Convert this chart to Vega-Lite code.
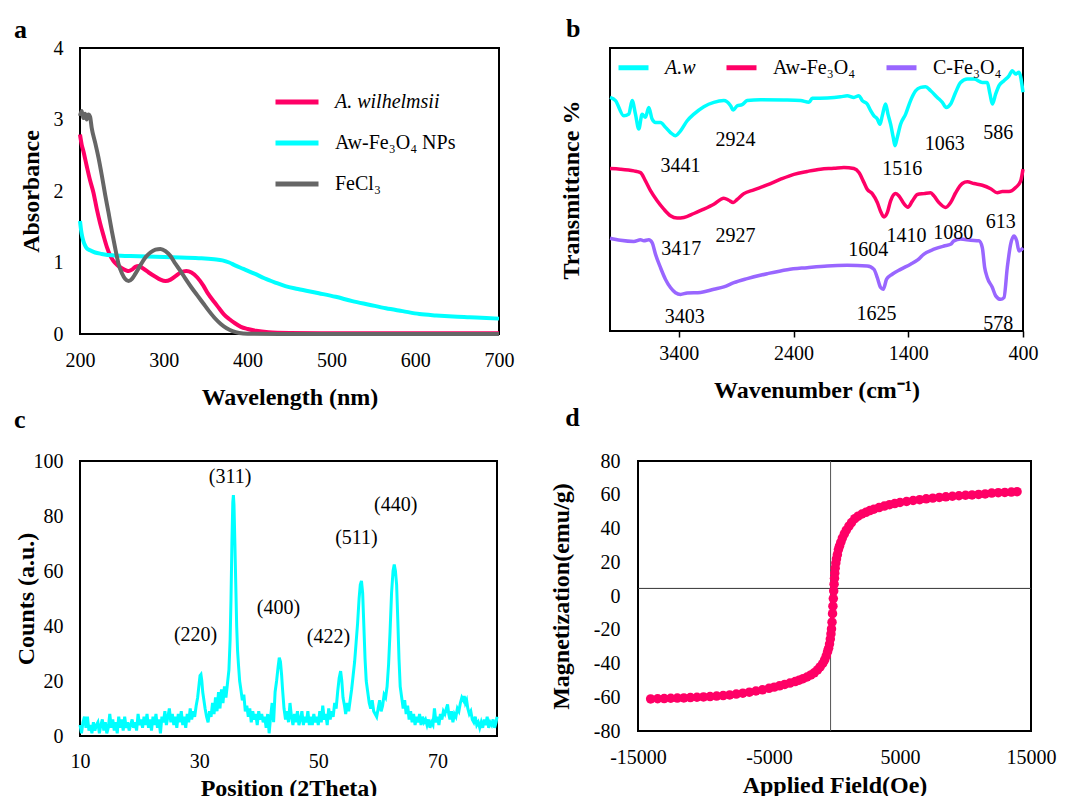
{
  "$schema": "https://vega.github.io/schema/vega-lite/v6.json",
  "padding": {"left": 13, "top": 15, "right": 0, "bottom": 0},
  "config": {
    "font": "Liberation Serif",
    "view": {"stroke": "#000", "strokeWidth": 2},
    "axis": {"labelFont": "Liberation Serif", "labelFontSize": 20, "labelColor": "#000", "titleFont": "Liberation Serif", "titleFontSize": 24, "titleFontWeight": "bold", "titleColor": "#000", "grid": false, "domain": false, "ticks": false, "labelFlush": false, "labelOverlap": false},
    "title": {"font": "Liberation Serif", "fontSize": 26, "fontWeight": "bold", "color": "#000", "anchor": "start", "frame": "bounds", "baseline": "alphabetic"},
    "legend": {"labelFont": "Liberation Serif", "labelFontSize": 20, "labelColor": "#000", "labelLimit": 300},
    "text": {"font": "Liberation Serif", "fontSize": 20, "fill": "#000"}
  },
  "spacing": -6,
  "resolve": {"scale": {"color": "independent"}, "legend": {"color": "independent"}},
  "vconcat": [
    {
      "spacing": 43,
      "resolve": {"scale": {"color": "independent"}, "legend": {"color": "independent"}},
      "hconcat": [
        {
          "width": 419, "height": 286,
          "title": {"text": "a", "dx": -5, "offset": -5},
          "data": {"values": [
            {"s":"A. wilhelmsii","wl":200,"v":2.79},{"s":"A. wilhelmsii","wl":202,"v":2.65},{"s":"A. wilhelmsii","wl":204,"v":2.56},{"s":"A. wilhelmsii","wl":208,"v":2.35},{"s":"A. wilhelmsii","wl":212,"v":2.15},{"s":"A. wilhelmsii","wl":216,"v":1.98},{"s":"A. wilhelmsii","wl":220,"v":1.75},{"s":"A. wilhelmsii","wl":224,"v":1.55},{"s":"A. wilhelmsii","wl":228,"v":1.38},{"s":"A. wilhelmsii","wl":232,"v":1.22},{"s":"A. wilhelmsii","wl":236,"v":1.1},{"s":"A. wilhelmsii","wl":240,"v":1.02},{"s":"A. wilhelmsii","wl":245,"v":0.96},{"s":"A. wilhelmsii","wl":250,"v":0.92},{"s":"A. wilhelmsii","wl":255,"v":0.89},{"s":"A. wilhelmsii","wl":258,"v":0.88},{"s":"A. wilhelmsii","wl":262,"v":0.9},{"s":"A. wilhelmsii","wl":266,"v":0.94},{"s":"A. wilhelmsii","wl":270,"v":0.95},{"s":"A. wilhelmsii","wl":275,"v":0.92},{"s":"A. wilhelmsii","wl":282,"v":0.86},{"s":"A. wilhelmsii","wl":290,"v":0.8},{"s":"A. wilhelmsii","wl":296,"v":0.76},{"s":"A. wilhelmsii","wl":302,"v":0.74},{"s":"A. wilhelmsii","wl":308,"v":0.76},{"s":"A. wilhelmsii","wl":314,"v":0.81},{"s":"A. wilhelmsii","wl":320,"v":0.86},{"s":"A. wilhelmsii","wl":327,"v":0.88},{"s":"A. wilhelmsii","wl":333,"v":0.86},{"s":"A. wilhelmsii","wl":340,"v":0.79},{"s":"A. wilhelmsii","wl":347,"v":0.68},{"s":"A. wilhelmsii","wl":353,"v":0.56},{"s":"A. wilhelmsii","wl":360,"v":0.45},{"s":"A. wilhelmsii","wl":366,"v":0.36},{"s":"A. wilhelmsii","wl":372,"v":0.27},{"s":"A. wilhelmsii","wl":378,"v":0.21},{"s":"A. wilhelmsii","wl":385,"v":0.15},{"s":"A. wilhelmsii","wl":392,"v":0.1},{"s":"A. wilhelmsii","wl":400,"v":0.07},{"s":"A. wilhelmsii","wl":410,"v":0.045},{"s":"A. wilhelmsii","wl":425,"v":0.025},{"s":"A. wilhelmsii","wl":450,"v":0.015},{"s":"A. wilhelmsii","wl":500,"v":0.01},{"s":"A. wilhelmsii","wl":600,"v":0.01},{"s":"A. wilhelmsii","wl":700,"v":0.01},
            {"s":"Aw-Fe₃O₄ NPs","wl":200,"v":1.58},{"s":"Aw-Fe₃O₄ NPs","wl":201,"v":1.48},{"s":"Aw-Fe₃O₄ NPs","wl":202,"v":1.4},{"s":"Aw-Fe₃O₄ NPs","wl":204,"v":1.3},{"s":"Aw-Fe₃O₄ NPs","wl":206,"v":1.24},{"s":"Aw-Fe₃O₄ NPs","wl":208,"v":1.2},{"s":"Aw-Fe₃O₄ NPs","wl":212,"v":1.17},{"s":"Aw-Fe₃O₄ NPs","wl":218,"v":1.14},{"s":"Aw-Fe₃O₄ NPs","wl":226,"v":1.12},{"s":"Aw-Fe₃O₄ NPs","wl":238,"v":1.1},{"s":"Aw-Fe₃O₄ NPs","wl":260,"v":1.09},{"s":"Aw-Fe₃O₄ NPs","wl":290,"v":1.08},{"s":"Aw-Fe₃O₄ NPs","wl":320,"v":1.07},{"s":"Aw-Fe₃O₄ NPs","wl":345,"v":1.06},{"s":"Aw-Fe₃O₄ NPs","wl":360,"v":1.045},{"s":"Aw-Fe₃O₄ NPs","wl":370,"v":1.03},{"s":"Aw-Fe₃O₄ NPs","wl":378,"v":1.0},{"s":"Aw-Fe₃O₄ NPs","wl":385,"v":0.96},{"s":"Aw-Fe₃O₄ NPs","wl":395,"v":0.91},{"s":"Aw-Fe₃O₄ NPs","wl":409,"v":0.84},{"s":"Aw-Fe₃O₄ NPs","wl":420,"v":0.78},{"s":"Aw-Fe₃O₄ NPs","wl":433,"v":0.72},{"s":"Aw-Fe₃O₄ NPs","wl":445,"v":0.67},{"s":"Aw-Fe₃O₄ NPs","wl":460,"v":0.63},{"s":"Aw-Fe₃O₄ NPs","wl":485,"v":0.57},{"s":"Aw-Fe₃O₄ NPs","wl":505,"v":0.52},{"s":"Aw-Fe₃O₄ NPs","wl":525,"v":0.46},{"s":"Aw-Fe₃O₄ NPs","wl":545,"v":0.41},{"s":"Aw-Fe₃O₄ NPs","wl":565,"v":0.36},{"s":"Aw-Fe₃O₄ NPs","wl":585,"v":0.32},{"s":"Aw-Fe₃O₄ NPs","wl":605,"v":0.28},{"s":"Aw-Fe₃O₄ NPs","wl":625,"v":0.26},{"s":"Aw-Fe₃O₄ NPs","wl":645,"v":0.245},{"s":"Aw-Fe₃O₄ NPs","wl":665,"v":0.235},{"s":"Aw-Fe₃O₄ NPs","wl":685,"v":0.225},{"s":"Aw-Fe₃O₄ NPs","wl":700,"v":0.215},
            {"s":"FeCl₃","wl":200,"v":3.05},{"s":"FeCl₃","wl":202,"v":3.12},{"s":"FeCl₃","wl":204,"v":3.02},{"s":"FeCl₃","wl":206,"v":3.08},{"s":"FeCl₃","wl":208,"v":3.0},{"s":"FeCl₃","wl":210,"v":3.07},{"s":"FeCl₃","wl":212,"v":3.04},{"s":"FeCl₃","wl":214,"v":2.88},{"s":"FeCl₃","wl":218,"v":2.68},{"s":"FeCl₃","wl":222,"v":2.47},{"s":"FeCl₃","wl":226,"v":2.22},{"s":"FeCl₃","wl":230,"v":1.95},{"s":"FeCl₃","wl":234,"v":1.7},{"s":"FeCl₃","wl":238,"v":1.44},{"s":"FeCl₃","wl":242,"v":1.2},{"s":"FeCl₃","wl":246,"v":0.98},{"s":"FeCl₃","wl":250,"v":0.85},{"s":"FeCl₃","wl":254,"v":0.77},{"s":"FeCl₃","wl":258,"v":0.74},{"s":"FeCl₃","wl":262,"v":0.77},{"s":"FeCl₃","wl":266,"v":0.84},{"s":"FeCl₃","wl":272,"v":0.96},{"s":"FeCl₃","wl":278,"v":1.07},{"s":"FeCl₃","wl":284,"v":1.14},{"s":"FeCl₃","wl":290,"v":1.18},{"s":"FeCl₃","wl":296,"v":1.19},{"s":"FeCl₃","wl":302,"v":1.16},{"s":"FeCl₃","wl":308,"v":1.09},{"s":"FeCl₃","wl":314,"v":0.98},{"s":"FeCl₃","wl":320,"v":0.88},{"s":"FeCl₃","wl":326,"v":0.77},{"s":"FeCl₃","wl":333,"v":0.65},{"s":"FeCl₃","wl":340,"v":0.54},{"s":"FeCl₃","wl":347,"v":0.43},{"s":"FeCl₃","wl":354,"v":0.32},{"s":"FeCl₃","wl":361,"v":0.22},{"s":"FeCl₃","wl":368,"v":0.14},{"s":"FeCl₃","wl":375,"v":0.08},{"s":"FeCl₃","wl":382,"v":0.04},{"s":"FeCl₃","wl":390,"v":0.015},{"s":"FeCl₃","wl":400,"v":0.005},{"s":"FeCl₃","wl":450,"v":0.0},{"s":"FeCl₃","wl":700,"v":0.0}
          ]},
          "mark": {"type": "line", "strokeWidth": 4, "interpolate": "monotone"},
          "encoding": {
            "x": {"field": "wl", "type": "quantitative", "scale": {"domain": [200, 700], "nice": false, "zero": false}, "axis": {"values": [200, 300, 400, 500, 600, 700], "title": "Wavelength (nm)", "labelPadding": 16, "titlePadding": 15, "labelExpr": "'' + datum.value"}},
            "y": {"field": "v", "type": "quantitative", "scale": {"domain": [0, 4], "nice": false}, "axis": {"values": [0, 1, 2, 3, 4], "title": "Absorbance", "labelPadding": 17, "titlePadding": 10, "labelExpr": "'' + datum.value"}},
            "color": {"field": "s", "type": "nominal", "sort": null,
              "scale": {"domain": ["A. wilhelmsii", "Aw-Fe₃O₄ NPs", "FeCl₃"], "range": ["#FF0066", "#00FFFF", "#666666"]},
              "legend": {"title": null, "orient": "none", "legendX": 193, "legendY": 30, "symbolType": "stroke", "symbolSize": 1849, "symbolStrokeWidth": 5, "labelOffset": 14, "rowPadding": 7,
                "encode": {"labels": {"update": {"fontStyle": {"signal": "datum.label === 'A. wilhelmsii' ? 'italic' : 'normal'"}}}}}}
          }
        },
        {
          "width": 413, "height": 283,
          "title": {"text": "b", "dx": 7, "offset": 6},
          "layer": [
            {
              "data": {"values": [
                {"s":"A.w","wn":4000,"t":81.1},{"s":"A.w","wn":3952,"t":80.0},{"s":"A.w","wn":3880,"t":74.7},{"s":"A.w","wn":3836,"t":75.3},{"s":"A.w","wn":3807,"t":80.0},{"s":"A.w","wn":3778,"t":75.3},{"s":"A.w","wn":3749,"t":70.1},{"s":"A.w","wn":3720,"t":75.3},{"s":"A.w","wn":3691,"t":74.2},{"s":"A.w","wn":3662,"t":77.6},{"s":"A.w","wn":3633,"t":73.6},{"s":"A.w","wn":3603,"t":72.4},{"s":"A.w","wn":3560,"t":72.4},{"s":"A.w","wn":3516,"t":70.7},{"s":"A.w","wn":3473,"t":68.9},{"s":"A.w","wn":3429,"t":67.8},{"s":"A.w","wn":3385,"t":69.5},{"s":"A.w","wn":3327,"t":73.0},{"s":"A.w","wn":3269,"t":75.3},{"s":"A.w","wn":3182,"t":77.9},{"s":"A.w","wn":3095,"t":79.4},{"s":"A.w","wn":3008,"t":80.0},{"s":"A.w","wn":2949,"t":78.2},{"s":"A.w","wn":2926,"t":76.7},{"s":"A.w","wn":2891,"t":78.2},{"s":"A.w","wn":2848,"t":78.6},{"s":"A.w","wn":2804,"t":80.0},{"s":"A.w","wn":2688,"t":80.3},{"s":"A.w","wn":2484,"t":80.2},{"s":"A.w","wn":2339,"t":80.0},{"s":"A.w","wn":2266,"t":79.4},{"s":"A.w","wn":2237,"t":80.8},{"s":"A.w","wn":2106,"t":80.9},{"s":"A.w","wn":1990,"t":81.3},{"s":"A.w","wn":1932,"t":81.7},{"s":"A.w","wn":1874,"t":81.1},{"s":"A.w","wn":1830,"t":81.7},{"s":"A.w","wn":1801,"t":80.0},{"s":"A.w","wn":1758,"t":78.8},{"s":"A.w","wn":1728,"t":76.5},{"s":"A.w","wn":1699,"t":74.7},{"s":"A.w","wn":1670,"t":73.6},{"s":"A.w","wn":1647,"t":71.8},{"s":"A.w","wn":1627,"t":74.7},{"s":"A.w","wn":1598,"t":78.8},{"s":"A.w","wn":1577,"t":75.3},{"s":"A.w","wn":1554,"t":71.8},{"s":"A.w","wn":1531,"t":67.2},{"s":"A.w","wn":1516,"t":64.3},{"s":"A.w","wn":1496,"t":67.2},{"s":"A.w","wn":1467,"t":71.8},{"s":"A.w","wn":1423,"t":75.3},{"s":"A.w","wn":1380,"t":80.0},{"s":"A.w","wn":1336,"t":83.4},{"s":"A.w","wn":1292,"t":84.6},{"s":"A.w","wn":1249,"t":84.8},{"s":"A.w","wn":1205,"t":83.4},{"s":"A.w","wn":1147,"t":81.1},{"s":"A.w","wn":1103,"t":79.4},{"s":"A.w","wn":1069,"t":77.6},{"s":"A.w","wn":1031,"t":78.8},{"s":"A.w","wn":987,"t":82.9},{"s":"A.w","wn":944,"t":86.3},{"s":"A.w","wn":885,"t":87.5},{"s":"A.w","wn":827,"t":87.5},{"s":"A.w","wn":755,"t":86.3},{"s":"A.w","wn":711,"t":86.3},{"s":"A.w","wn":688,"t":82.3},{"s":"A.w","wn":667,"t":78.8},{"s":"A.w","wn":638,"t":82.3},{"s":"A.w","wn":609,"t":85.2},{"s":"A.w","wn":566,"t":86.9},{"s":"A.w","wn":522,"t":88.6},{"s":"A.w","wn":493,"t":90.4},{"s":"A.w","wn":464,"t":89.2},{"s":"A.w","wn":435,"t":89.8},{"s":"A.w","wn":400,"t":82.9},
                {"s":"Aw-Fe₃O₄","wn":4000,"t":56.4},{"s":"Aw-Fe₃O₄","wn":3909,"t":56.2},{"s":"Aw-Fe₃O₄","wn":3792,"t":55.6},{"s":"Aw-Fe₃O₄","wn":3734,"t":55.0},{"s":"Aw-Fe₃O₄","wn":3691,"t":52.1},{"s":"Aw-Fe₃O₄","wn":3647,"t":48.7},{"s":"Aw-Fe₃O₄","wn":3589,"t":45.2},{"s":"Aw-Fe₃O₄","wn":3531,"t":42.3},{"s":"Aw-Fe₃O₄","wn":3473,"t":40.0},{"s":"Aw-Fe₃O₄","wn":3415,"t":39.2},{"s":"Aw-Fe₃O₄","wn":3356,"t":39.4},{"s":"Aw-Fe₃O₄","wn":3269,"t":40.8},{"s":"Aw-Fe₃O₄","wn":3182,"t":42.3},{"s":"Aw-Fe₃O₄","wn":3095,"t":44.0},{"s":"Aw-Fe₃O₄","wn":3008,"t":46.1},{"s":"Aw-Fe₃O₄","wn":2964,"t":45.4},{"s":"Aw-Fe₃O₄","wn":2926,"t":44.6},{"s":"Aw-Fe₃O₄","wn":2891,"t":45.7},{"s":"Aw-Fe₃O₄","wn":2833,"t":47.7},{"s":"Aw-Fe₃O₄","wn":2746,"t":49.0},{"s":"Aw-Fe₃O₄","wn":2630,"t":50.7},{"s":"Aw-Fe₃O₄","wn":2513,"t":52.7},{"s":"Aw-Fe₃O₄","wn":2397,"t":54.4},{"s":"Aw-Fe₃O₄","wn":2281,"t":55.4},{"s":"Aw-Fe₃O₄","wn":2165,"t":56.2},{"s":"Aw-Fe₃O₄","wn":2048,"t":56.5},{"s":"Aw-Fe₃O₄","wn":1961,"t":56.8},{"s":"Aw-Fe₃O₄","wn":1874,"t":56.4},{"s":"Aw-Fe₃O₄","wn":1830,"t":55.0},{"s":"Aw-Fe₃O₄","wn":1787,"t":51.6},{"s":"Aw-Fe₃O₄","wn":1758,"t":49.2},{"s":"Aw-Fe₃O₄","wn":1714,"t":47.7},{"s":"Aw-Fe₃O₄","wn":1670,"t":44.6},{"s":"Aw-Fe₃O₄","wn":1641,"t":41.5},{"s":"Aw-Fe₃O₄","wn":1612,"t":39.6},{"s":"Aw-Fe₃O₄","wn":1583,"t":41.1},{"s":"Aw-Fe₃O₄","wn":1554,"t":45.2},{"s":"Aw-Fe₃O₄","wn":1510,"t":47.7},{"s":"Aw-Fe₃O₄","wn":1481,"t":46.9},{"s":"Aw-Fe₃O₄","wn":1438,"t":44.2},{"s":"Aw-Fe₃O₄","wn":1403,"t":43.0},{"s":"Aw-Fe₃O₄","wn":1365,"t":45.1},{"s":"Aw-Fe₃O₄","wn":1321,"t":47.4},{"s":"Aw-Fe₃O₄","wn":1263,"t":47.7},{"s":"Aw-Fe₃O₄","wn":1205,"t":48.0},{"s":"Aw-Fe₃O₄","wn":1176,"t":46.9},{"s":"Aw-Fe₃O₄","wn":1133,"t":44.6},{"s":"Aw-Fe₃O₄","wn":1074,"t":42.9},{"s":"Aw-Fe₃O₄","wn":1031,"t":44.6},{"s":"Aw-Fe₃O₄","wn":987,"t":48.0},{"s":"Aw-Fe₃O₄","wn":929,"t":51.2},{"s":"Aw-Fe₃O₄","wn":885,"t":51.8},{"s":"Aw-Fe₃O₄","wn":827,"t":51.2},{"s":"Aw-Fe₃O₄","wn":755,"t":50.6},{"s":"Aw-Fe₃O₄","wn":682,"t":49.4},{"s":"Aw-Fe₃O₄","wn":624,"t":48.0},{"s":"Aw-Fe₃O₄","wn":580,"t":48.4},{"s":"Aw-Fe₃O₄","wn":522,"t":48.4},{"s":"Aw-Fe₃O₄","wn":464,"t":49.8},{"s":"Aw-Fe₃O₄","wn":420,"t":52.1},{"s":"Aw-Fe₃O₄","wn":400,"t":56.2},
                {"s":"C-Fe₃O₄","wn":4000,"t":32.2},{"s":"C-Fe₃O₄","wn":3909,"t":31.5},{"s":"C-Fe₃O₄","wn":3792,"t":31.1},{"s":"C-Fe₃O₄","wn":3734,"t":31.7},{"s":"C-Fe₃O₄","wn":3705,"t":31.3},{"s":"C-Fe₃O₄","wn":3662,"t":31.7},{"s":"C-Fe₃O₄","wn":3633,"t":30.7},{"s":"C-Fe₃O₄","wn":3603,"t":26.6},{"s":"C-Fe₃O₄","wn":3560,"t":22.0},{"s":"C-Fe₃O₄","wn":3516,"t":17.9},{"s":"C-Fe₃O₄","wn":3473,"t":15.1},{"s":"C-Fe₃O₄","wn":3429,"t":13.3},{"s":"C-Fe₃O₄","wn":3385,"t":12.7},{"s":"C-Fe₃O₄","wn":3327,"t":13.2},{"s":"C-Fe₃O₄","wn":3211,"t":13.4},{"s":"C-Fe₃O₄","wn":3095,"t":14.5},{"s":"C-Fe₃O₄","wn":3008,"t":15.3},{"s":"C-Fe₃O₄","wn":2920,"t":16.8},{"s":"C-Fe₃O₄","wn":2804,"t":18.2},{"s":"C-Fe₃O₄","wn":2630,"t":19.9},{"s":"C-Fe₃O₄","wn":2455,"t":21.3},{"s":"C-Fe₃O₄","wn":2281,"t":22.0},{"s":"C-Fe₃O₄","wn":2106,"t":22.6},{"s":"C-Fe₃O₄","wn":1932,"t":22.8},{"s":"C-Fe₃O₄","wn":1758,"t":22.6},{"s":"C-Fe₃O₄","wn":1699,"t":21.4},{"s":"C-Fe₃O₄","wn":1670,"t":18.5},{"s":"C-Fe₃O₄","wn":1641,"t":15.1},{"s":"C-Fe₃O₄","wn":1618,"t":14.5},{"s":"C-Fe₃O₄","wn":1589,"t":18.0},{"s":"C-Fe₃O₄","wn":1540,"t":19.7},{"s":"C-Fe₃O₄","wn":1467,"t":21.4},{"s":"C-Fe₃O₄","wn":1380,"t":23.2},{"s":"C-Fe₃O₄","wn":1321,"t":24.6},{"s":"C-Fe₃O₄","wn":1263,"t":26.7},{"s":"C-Fe₃O₄","wn":1176,"t":28.4},{"s":"C-Fe₃O₄","wn":1089,"t":29.5},{"s":"C-Fe₃O₄","wn":1031,"t":30.1},{"s":"C-Fe₃O₄","wn":1002,"t":31.3},{"s":"C-Fe₃O₄","wn":944,"t":31.9},{"s":"C-Fe₃O₄","wn":856,"t":31.5},{"s":"C-Fe₃O₄","wn":784,"t":31.3},{"s":"C-Fe₃O₄","wn":755,"t":29.0},{"s":"C-Fe₃O₄","wn":734,"t":22.0},{"s":"C-Fe₃O₄","wn":711,"t":18.5},{"s":"C-Fe₃O₄","wn":667,"t":15.1},{"s":"C-Fe₃O₄","wn":638,"t":12.2},{"s":"C-Fe₃O₄","wn":595,"t":11.0},{"s":"C-Fe₃O₄","wn":566,"t":11.6},{"s":"C-Fe₃O₄","wn":537,"t":22.0},{"s":"C-Fe₃O₄","wn":508,"t":30.1},{"s":"C-Fe₃O₄","wn":479,"t":33.0},{"s":"C-Fe₃O₄","wn":455,"t":31.3},{"s":"C-Fe₃O₄","wn":435,"t":27.8},{"s":"C-Fe₃O₄","wn":400,"t":28.9}
              ]},
              "mark": {"type": "line", "strokeWidth": 3.5, "interpolate": "monotone"},
              "encoding": {
                "x": {"field": "wn", "type": "quantitative", "scale": {"domain": [400, 4000], "reverse": true, "nice": false, "zero": false}, "axis": {"values": [3400, 2400, 1400, 400], "title": "Wavenumber (cm⁻¹)", "ticks": true, "tickSize": 6, "tickColor": "#000", "tickWidth": 1.5, "labelPadding": 6, "titlePadding": 15, "labelExpr": "'' + datum.value"}},
                "y": {"field": "t", "type": "quantitative", "scale": {"domain": [0, 98.26], "nice": false}, "axis": {"labels": false, "title": "Transmittance %", "titlePadding": 27}},
                "color": {"field": "s", "type": "nominal", "sort": null,
                  "scale": {"domain": ["A.w", "Aw-Fe₃O₄", "C-Fe₃O₄"], "range": ["#00FFFF", "#FF0066", "#9966FF"]},
                  "legend": {"title": null, "orient": "none", "direction": "horizontal", "legendX": 6, "legendY": 2, "symbolType": "stroke", "symbolSize": 900, "symbolStrokeWidth": 5, "labelOffset": 14, "columnPadding": 20,
                    "encode": {"labels": {"update": {"fontStyle": {"signal": "datum.label === 'A.w' ? 'italic' : 'normal'"}}}}}}
              }
            },
            {
              "data": {"values": [
                {"wn":3385,"t":57.4,"label":"3441"},{"wn":2906,"t":66.3,"label":"2924"},{"wn":1452,"t":56.2,"label":"1516"},{"wn":1083,"t":65.1,"label":"1063"},{"wn":615,"t":68.9,"label":"586"},
                {"wn":3380,"t":28.4,"label":"3417"},{"wn":2906,"t":33.0,"label":"2927"},{"wn":1749,"t":28.0,"label":"1604"},{"wn":1415,"t":33.0,"label":"1410"},{"wn":1008,"t":34.0,"label":"1080"},{"wn":595,"t":38.0,"label":"613"},
                {"wn":3348,"t":4.9,"label":"3403"},{"wn":1676,"t":5.8,"label":"1625"},{"wn":615,"t":2.5,"label":"578"}
              ]},
              "mark": {"type": "text", "align": "center", "baseline": "middle"},
              "encoding": {
                "x": {"field": "wn", "type": "quantitative", "axis": {"values": [3400, 2400, 1400, 400], "title": "Wavenumber (cm⁻¹)", "ticks": true, "tickSize": 6, "tickColor": "#000", "tickWidth": 1.5, "labelPadding": 6, "titlePadding": 15, "labelExpr": "'' + datum.value"}},
                "y": {"field": "t", "type": "quantitative", "axis": {"labels": false, "title": "Transmittance %", "titlePadding": 27}},
                "text": {"field": "label"}
              }
            }
          ]
        }
      ]
    },
    {
      "spacing": 44,
      "resolve": {"scale": {"color": "independent"}, "legend": {"color": "independent"}},
      "hconcat": [
        {
          "width": 417, "height": 275,
          "title": {"text": "c", "offset": 18},
          "layer": [
            {
              "data": {"values": [
                {"tt":10.0,"c":4},{"tt":10.25,"c":1},{"tt":10.5,"c":5},{"tt":10.75,"c":7},{"tt":11.0,"c":3},{"tt":11.25,"c":7},{"tt":11.5,"c":2},{"tt":11.75,"c":4},{"tt":12.0,"c":1},{"tt":12.25,"c":5},{"tt":12.5,"c":2},{"tt":12.75,"c":4},{"tt":13.0,"c":5},{"tt":13.25,"c":1},{"tt":13.5,"c":4},{"tt":13.75,"c":6},{"tt":14.0,"c":2},{"tt":14.25,"c":5},{"tt":14.5,"c":1},{"tt":14.75,"c":3},{"tt":15.0,"c":8},{"tt":15.25,"c":3},{"tt":15.5,"c":6},{"tt":15.75,"c":2},{"tt":16.0,"c":5},{"tt":16.25,"c":1},{"tt":16.5,"c":7},{"tt":16.75,"c":3},{"tt":17.0,"c":6},{"tt":17.25,"c":2},{"tt":17.5,"c":7},{"tt":17.75,"c":3},{"tt":18.0,"c":5},{"tt":18.25,"c":2},{"tt":18.5,"c":4},{"tt":18.75,"c":6},{"tt":19.0,"c":3},{"tt":19.25,"c":5},{"tt":19.5,"c":2},{"tt":19.75,"c":8},{"tt":20.0,"c":4},
                {"tt":20.25,"c":6},{"tt":20.5,"c":3},{"tt":20.75,"c":7},{"tt":21.0,"c":4},{"tt":21.25,"c":8},{"tt":21.5,"c":3},{"tt":21.75,"c":6},{"tt":22.0,"c":2},{"tt":22.25,"c":7},{"tt":22.5,"c":4},{"tt":22.75,"c":8},{"tt":23.0,"c":3},{"tt":23.25,"c":6},{"tt":23.5,"c":1},{"tt":23.75,"c":7},{"tt":24.0,"c":5},{"tt":24.25,"c":9},{"tt":24.5,"c":4},{"tt":24.75,"c":7},{"tt":25.0,"c":10},{"tt":25.25,"c":5},{"tt":25.5,"c":8},{"tt":25.75,"c":4},{"tt":26.0,"c":7},{"tt":26.25,"c":3},{"tt":26.5,"c":8},{"tt":26.75,"c":5},{"tt":27.0,"c":9},{"tt":27.25,"c":4},{"tt":27.5,"c":7},{"tt":27.75,"c":3},{"tt":28.0,"c":8},{"tt":28.25,"c":5},{"tt":28.5,"c":10},{"tt":28.75,"c":6},{"tt":29.0,"c":9},{"tt":29.25,"c":7},
                {"tt":29.5,"c":11},{"tt":29.75,"c":14},{"tt":30.0,"c":19},{"tt":30.15,"c":22},{"tt":30.3,"c":22.4},{"tt":30.45,"c":20},{"tt":30.6,"c":16},{"tt":30.8,"c":13},{"tt":31.0,"c":10},{"tt":31.25,"c":7},{"tt":31.5,"c":5},{"tt":31.75,"c":9},{"tt":32.0,"c":7},{"tt":32.25,"c":12},{"tt":32.5,"c":8},{"tt":32.75,"c":14},{"tt":33.0,"c":9},{"tt":33.25,"c":16},{"tt":33.5,"c":10},{"tt":33.75,"c":17},{"tt":34.0,"c":12},{"tt":34.25,"c":18},{"tt":34.5,"c":14},{"tt":34.75,"c":19},{"tt":35.0,"c":24},{"tt":35.2,"c":35},{"tt":35.35,"c":50},{"tt":35.5,"c":70},{"tt":35.65,"c":85},{"tt":35.75,"c":87.6},{"tt":35.85,"c":84},{"tt":36.0,"c":70},{"tt":36.15,"c":55},{"tt":36.3,"c":40},{"tt":36.45,"c":31},{"tt":36.6,"c":26},{"tt":36.8,"c":20},{"tt":37.0,"c":17},{"tt":37.25,"c":13},{"tt":37.5,"c":15},{"tt":37.75,"c":9},{"tt":38.0,"c":11},{"tt":38.25,"c":7},{"tt":38.5,"c":10},{"tt":38.75,"c":5},{"tt":39.0,"c":9},{"tt":39.25,"c":6},{"tt":39.5,"c":8},{"tt":39.75,"c":4},{"tt":40.0,"c":9},{"tt":40.25,"c":6},{"tt":40.5,"c":8},{"tt":40.75,"c":5},{"tt":41.0,"c":7},{"tt":41.25,"c":3},{"tt":41.5,"c":8},{"tt":41.75,"c":1},{"tt":42.0,"c":7},{"tt":42.25,"c":12},{"tt":42.5,"c":5},{"tt":42.75,"c":16},{"tt":43.0,"c":20},{"tt":43.25,"c":25},{"tt":43.45,"c":28.5},{"tt":43.65,"c":27},{"tt":43.85,"c":22},{"tt":44.0,"c":17},{"tt":44.25,"c":10},{"tt":44.5,"c":6},{"tt":44.75,"c":9},{"tt":45.0,"c":5},{"tt":45.25,"c":12},{"tt":45.5,"c":7},{"tt":45.75,"c":4},{"tt":46.0,"c":8},{"tt":46.25,"c":5},{"tt":46.5,"c":9},{"tt":46.75,"c":4},{"tt":47.0,"c":6},{"tt":47.25,"c":9},{"tt":47.5,"c":4},{"tt":47.75,"c":7},{"tt":48.0,"c":5},{"tt":48.25,"c":9},{"tt":48.5,"c":4},{"tt":48.75,"c":7},{"tt":49.0,"c":4},{"tt":49.25,"c":8},{"tt":49.5,"c":5},{"tt":49.75,"c":7},{"tt":50.0,"c":4},{"tt":50.25,"c":9},{"tt":50.5,"c":5},{"tt":50.75,"c":11},{"tt":51.0,"c":6},{"tt":51.25,"c":8},{"tt":51.5,"c":4},{"tt":51.75,"c":10},{"tt":52.0,"c":6},{"tt":52.25,"c":9},{"tt":52.5,"c":7},{"tt":52.75,"c":12},{"tt":53.0,"c":10},{"tt":53.25,"c":16},{"tt":53.5,"c":21},{"tt":53.75,"c":23.6},{"tt":53.95,"c":20},{"tt":54.15,"c":14},{"tt":54.4,"c":11},{"tt":54.6,"c":8},{"tt":54.85,"c":12},{"tt":55.1,"c":9},{"tt":55.35,"c":13},{"tt":55.6,"c":17},{"tt":55.85,"c":22},{"tt":56.1,"c":27},{"tt":56.35,"c":34},{"tt":56.6,"c":41},{"tt":56.85,"c":50},{"tt":57.05,"c":55},{"tt":57.25,"c":56.4},{"tt":57.45,"c":52},{"tt":57.65,"c":40},{"tt":57.85,"c":28},{"tt":58.05,"c":20},{"tt":58.3,"c":16},{"tt":58.55,"c":12},{"tt":58.8,"c":10},{"tt":59.05,"c":13},{"tt":59.3,"c":9},{"tt":59.55,"c":8},{"tt":59.8,"c":7},{"tt":60.05,"c":10},{"tt":60.3,"c":13},{"tt":60.55,"c":9},{"tt":60.8,"c":11},{"tt":61.05,"c":15},{"tt":61.3,"c":14},{"tt":61.55,"c":18},{"tt":61.8,"c":26},{"tt":62.05,"c":38},{"tt":62.3,"c":52},{"tt":62.55,"c":60},{"tt":62.75,"c":62.4},{"tt":62.95,"c":60},{"tt":63.15,"c":55},{"tt":63.35,"c":42},{"tt":63.55,"c":28},{"tt":63.75,"c":18},{"tt":64.0,"c":14},{"tt":64.25,"c":10},{"tt":64.5,"c":13},{"tt":64.75,"c":8},{"tt":65.0,"c":11},{"tt":65.25,"c":6},{"tt":65.5,"c":9},{"tt":65.75,"c":5},{"tt":66.0,"c":8},{"tt":66.25,"c":4},{"tt":66.5,"c":7},{"tt":66.75,"c":5},{"tt":67.0,"c":8},{"tt":67.25,"c":4},{"tt":67.5,"c":7},{"tt":67.75,"c":5},{"tt":68.0,"c":6},{"tt":68.25,"c":4},{"tt":68.5,"c":6},{"tt":68.75,"c":3},{"tt":69.0,"c":5},{"tt":69.25,"c":4},{"tt":69.5,"c":10},{"tt":69.75,"c":5},{"tt":70.0,"c":7},{"tt":70.25,"c":4},{"tt":70.5,"c":8},{"tt":70.75,"c":6},{"tt":71.0,"c":9},{"tt":71.25,"c":8},{"tt":71.5,"c":10},{"tt":71.7,"c":11.5},{"tt":71.9,"c":8},{"tt":72.1,"c":6},{"tt":72.35,"c":9},{"tt":72.6,"c":5},{"tt":72.85,"c":8},{"tt":73.1,"c":7},{"tt":73.35,"c":10},{"tt":73.6,"c":9},{"tt":73.85,"c":12},{"tt":74.1,"c":14},{"tt":74.35,"c":13},{"tt":74.5,"c":14.5},{"tt":74.7,"c":12},{"tt":74.9,"c":13},{"tt":75.1,"c":10},{"tt":75.35,"c":8},{"tt":75.6,"c":9},{"tt":75.85,"c":6},{"tt":76.1,"c":5},{"tt":76.35,"c":7},{"tt":76.6,"c":4},{"tt":76.85,"c":5},{"tt":77.1,"c":3},{"tt":77.35,"c":5},{"tt":77.6,"c":3},{"tt":77.85,"c":6},{"tt":78.1,"c":4},{"tt":78.35,"c":7},{"tt":78.6,"c":3},{"tt":78.85,"c":5},{"tt":79.1,"c":4},{"tt":79.35,"c":6},{"tt":79.6,"c":3},{"tt":79.85,"c":5},{"tt":80.0,"c":7}
              ]},
              "mark": {"type": "line", "color": "#00FFFF", "strokeWidth": 3},
              "encoding": {
                "x": {"field": "tt", "type": "quantitative", "scale": {"domain": [10, 80], "nice": false, "zero": false}, "axis": {"values": [10, 30, 50, 70], "title": "Position (2Theta)", "labelPadding": 15, "titlePadding": 5, "labelExpr": "'' + datum.value"}},
                "y": {"field": "c", "type": "quantitative", "scale": {"domain": [0, 100], "nice": false}, "axis": {"values": [0, 20, 40, 60, 80, 100], "title": "Counts (a.u.)", "labelPadding": 17, "titlePadding": -5, "labelExpr": "'' + datum.value"}}
              }
            },
            {
              "data": {"values": [
                {"tt":35.2,"c":94.2,"label":"(311)"},{"tt":29.4,"c":36.8,"label":"(220)"},{"tt":43.3,"c":46.7,"label":"(400)"},{"tt":51.7,"c":36.0,"label":"(422)"},{"tt":56.4,"c":72.1,"label":"(511)"},{"tt":63.0,"c":84.0,"label":"(440)"}
              ]},
              "mark": {"type": "text", "align": "center", "baseline": "middle"},
              "encoding": {
                "x": {"field": "tt", "type": "quantitative", "axis": {"values": [10, 30, 50, 70], "title": "Position (2Theta)", "labelPadding": 15, "titlePadding": 5, "labelExpr": "'' + datum.value"}},
                "y": {"field": "c", "type": "quantitative", "axis": {"values": [0, 20, 40, 60, 80, 100], "title": "Counts (a.u.)", "labelPadding": 17, "titlePadding": -5, "labelExpr": "'' + datum.value"}},
                "text": {"field": "label"}
              }
            }
          ]
        },
        {
          "width": 393, "height": 270,
          "title": {"text": "d", "dx": 16, "offset": 20},
          "layer": [
            {
              "data": {"values": [{"h": -300}]},
              "mark": {"type": "rule", "color": "#555555", "strokeWidth": 1},
              "encoding": {
                "x": {"field": "h", "type": "quantitative", "scale": {"domain": [-15000, 15000], "nice": false, "zero": false}, "axis": {"values": [-15000, -5000, 5000, 15000], "title": "Applied Field(Oe)", "labelPadding": 16, "titlePadding": 6, "labelExpr": "'' + datum.value"}}
              }
            },
            {
              "data": {"values": [{"m": 4.5}]},
              "mark": {"type": "rule", "color": "#333333", "strokeWidth": 1},
              "encoding": {
                "y": {"field": "m", "type": "quantitative", "scale": {"domain": [-80, 80], "nice": false}, "axis": {"values": [-80, -60, -40, -20, 0, 20, 40, 60, 80], "title": "Magnetization(emu/g)", "labelPadding": 18, "titlePadding": 20, "labelExpr": "'' + datum.value"}}
              }
            },
            {
              "data": {"values": [
                {"h":13935,"m":61.8},{"h":13500,"m":61.6},{"h":13000,"m":61.4},{"h":12500,"m":61.2},{"h":12000,"m":61.0},{"h":11500,"m":60.5},{"h":11000,"m":60.2},{"h":10500,"m":59.9},{"h":10000,"m":59.7},{"h":9500,"m":59.4},{"h":9000,"m":59.1},{"h":8500,"m":58.8},{"h":8000,"m":58.4},{"h":7500,"m":58.0},{"h":7000,"m":57.6},{"h":6500,"m":57.1},{"h":6000,"m":56.6},{"h":5500,"m":56.0},{"h":5000,"m":55.4},{"h":4600,"m":54.8},{"h":4200,"m":54.1},{"h":3800,"m":53.3},{"h":3400,"m":52.4},{"h":3000,"m":51.4},{"h":2700,"m":50.6},{"h":2400,"m":49.6},{"h":2100,"m":48.6},{"h":1800,"m":47.3},{"h":1550,"m":45.8},{"h":1300,"m":43.5},{"h":1100,"m":41.4},{"h":900,"m":39.0},{"h":750,"m":36.8},{"h":600,"m":34.3},{"h":480,"m":31.8},{"h":380,"m":29.5},{"h":300,"m":27.5},{"h":220,"m":24.5},{"h":150,"m":22.0},{"h":100,"m":19.5},{"h":50,"m":16.5},{"h":20,"m":13.5},{"h":0,"m":10.5},{"h":-30,"m":7.0},{"h":-60,"m":3.0},{"h":-90,"m":-1.5},{"h":-120,"m":-6.0},{"h":-150,"m":-10.5},{"h":-190,"m":-15.5},{"h":-230,"m":-19.5},{"h":-270,"m":-22.5},{"h":-320,"m":-25.5},{"h":-380,"m":-28.5},{"h":-450,"m":-31.0},{"h":-530,"m":-33.0},{"h":-630,"m":-35.5},{"h":-750,"m":-37.8},{"h":-900,"m":-40.0},{"h":-1100,"m":-42.0},{"h":-1300,"m":-43.8},{"h":-1550,"m":-45.5},{"h":-1800,"m":-46.8},{"h":-2100,"m":-48.0},{"h":-2400,"m":-49.0},{"h":-2700,"m":-49.9},{"h":-3000,"m":-50.7},{"h":-3400,"m":-51.6},{"h":-3800,"m":-52.4},{"h":-4200,"m":-53.2},{"h":-4600,"m":-54.0},{"h":-5000,"m":-54.7},{"h":-5500,"m":-55.6},{"h":-6000,"m":-56.3},{"h":-6500,"m":-57.0},{"h":-7000,"m":-57.6},{"h":-7500,"m":-58.1},{"h":-8000,"m":-58.6},{"h":-8500,"m":-59.0},{"h":-9000,"m":-59.3},{"h":-9500,"m":-59.6},{"h":-10000,"m":-59.8},{"h":-10500,"m":-60.0},{"h":-11000,"m":-60.2},{"h":-11500,"m":-60.4},{"h":-12000,"m":-60.5},{"h":-12500,"m":-60.6},{"h":-13000,"m":-60.8},{"h":-13500,"m":-60.9},{"h":-14034,"m":-61.0}
              ]},
              "mark": {"type": "circle", "size": 90, "color": "#FF0066", "opacity": 1},
              "encoding": {
                "x": {"field": "h", "type": "quantitative", "axis": {"values": [-15000, -5000, 5000, 15000], "title": "Applied Field(Oe)", "labelPadding": 16, "titlePadding": 6, "labelExpr": "'' + datum.value"}},
                "y": {"field": "m", "type": "quantitative", "axis": {"values": [-80, -60, -40, -20, 0, 20, 40, 60, 80], "title": "Magnetization(emu/g)", "labelPadding": 18, "titlePadding": 20, "labelExpr": "'' + datum.value"}}
              }
            }
          ]
        }
      ]
    }
  ]
}
